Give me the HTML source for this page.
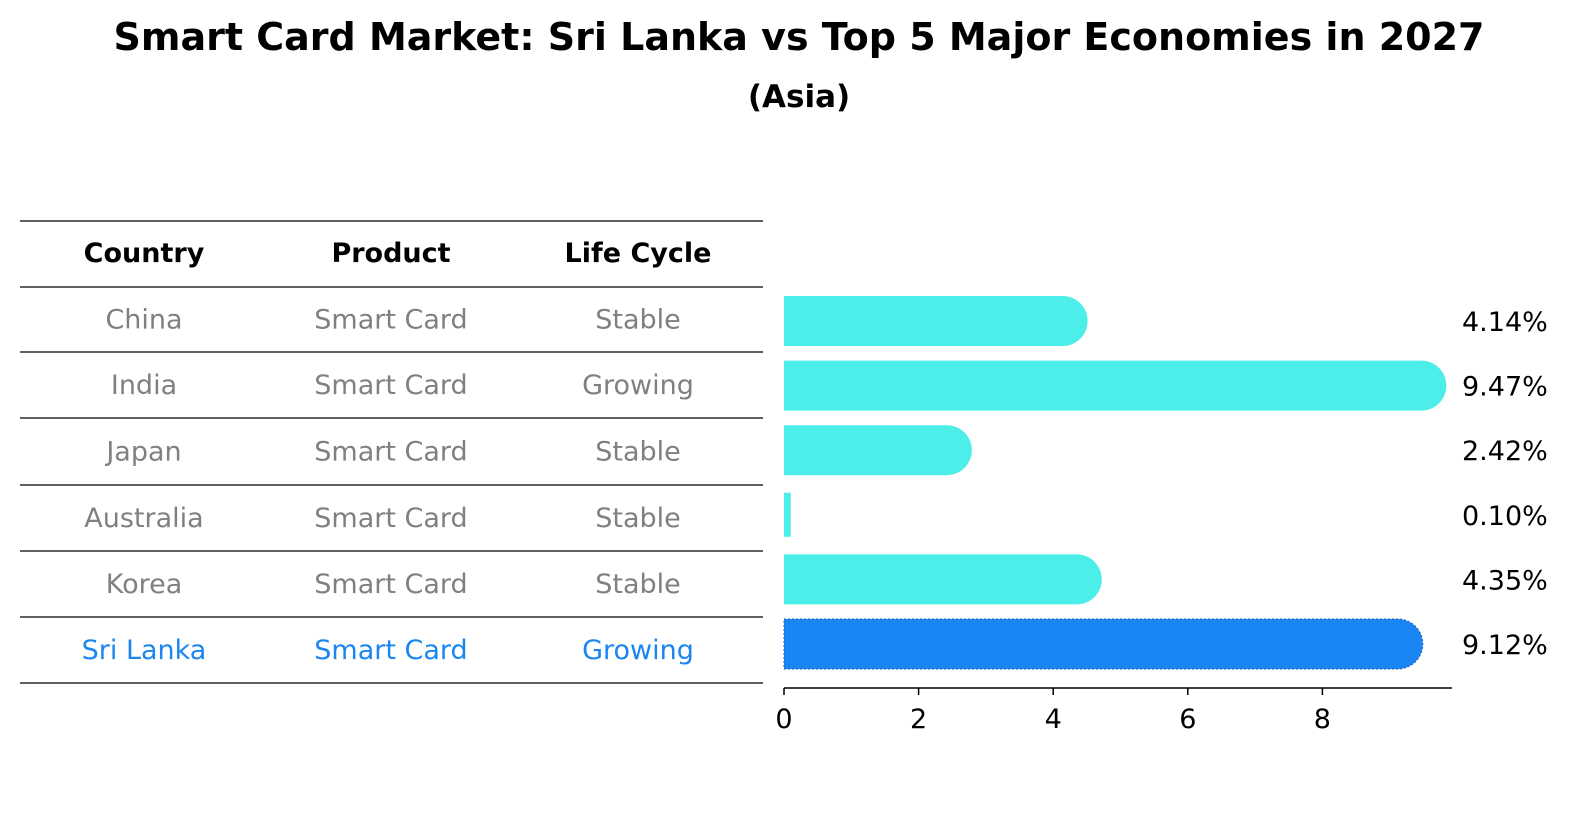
<!DOCTYPE html>
<html><head><meta charset="utf-8"><style>
body{margin:0;background:#fff;font-family:"Liberation Sans","DejaVu Sans",sans-serif}
</style></head><body>
<svg width="1586" height="823" font-family="DejaVu Sans, Liberation Sans, sans-serif">
<text x="799" y="50" text-anchor="middle" font-size="38" font-weight="bold">Smart Card Market: Sri Lanka vs Top 5 Major Economies in 2027</text>
<text x="799" y="107" text-anchor="middle" font-size="31" font-weight="bold">(Asia)</text>
<g id="table"></g>
<g id="bars"></g>
</svg>
<script>
const countries=["China","India","Japan","Australia","Korea","Sri Lanka"];
const products=["Smart Card","Smart Card","Smart Card","Smart Card","Smart Card","Smart Card"];
const cycles=["Stable","Growing","Stable","Stable","Stable","Growing"];
const values=[4.14,9.47,2.42,0.10,4.35,9.12];
const ticks=[0,2,4,6,8];
const NS="http://www.w3.org/2000/svg";
function mk(tag,attrs,parent,txt){const e=document.createElementNS(NS,tag);for(const k in attrs)e.setAttribute(k,attrs[k]);if(txt!==undefined)e.textContent=txt;parent.appendChild(e);return e;}
const tbl=document.getElementById('table');
const lines=[221,287,352,418,485,551,617,683];
lines.forEach(y=>{const l=mk('line',{x1:20,x2:763,y1:y,y2:y,stroke:'#000','stroke-width':1.2},tbl);

});
const cx=[144,391,638];
["Country","Product","Life Cycle"].forEach((h,i)=>{const t=mk('text',{x:cx[i],y:262,'text-anchor':'middle','font-size':27,'font-weight':'bold'},tbl,h);

});
const rowY=i=>(lines[i+1]+lines[i+2])/2+9;
countries.forEach((c,i)=>{const col=i===5?'#1a86f0':'#808080';
[c,products[i],cycles[i]].forEach((v,j)=>{const t=mk('text',{x:cx[j],y:rowY(i),'text-anchor':'middle','font-size':27,fill:col},tbl,v);

});});
const bars=document.getElementById('bars');
const x0=784,ppu=67.3;const xs=v=>x0+v*ppu;
const yc=i=>321+i*64.6;const h=50,r=25;
values.forEach((v,i)=>{const col=i===5?'#1a86f6':'#4beee8';const x1=xs(v);const y=yc(i)-h/2;let p;
if(v<1){p=mk('rect',{x:x0,y:y+3,width:x1-x0,height:h-6,fill:col},bars);}
else{p=mk('path',{d:`M${x0},${y}H${x1}A${r},${r} 0 0 1 ${x1},${y+h}H${x0}Z`,fill:col},bars);
if(i===5){p.setAttribute('stroke','#1560c0');p.setAttribute('stroke-dasharray','2 2');p.setAttribute('stroke-width','1');}}


const t=mk('text',{x:1462,y:yc(i)+10,'font-size':27},bars,v.toFixed(2)+'%');

});
const ax=mk('line',{x1:x0,x2:1452,y1:688,y2:688,stroke:'#000','stroke-width':1.5},bars);


ticks.forEach(tv=>{const tk=mk('line',{x1:xs(tv),x2:xs(tv),y1:688,y2:695,stroke:'#000','stroke-width':1.5},bars);


const t=mk('text',{x:xs(tv),y:728,'text-anchor':'middle','font-size':27},bars,String(tv));

});
</script>
</body></html>
